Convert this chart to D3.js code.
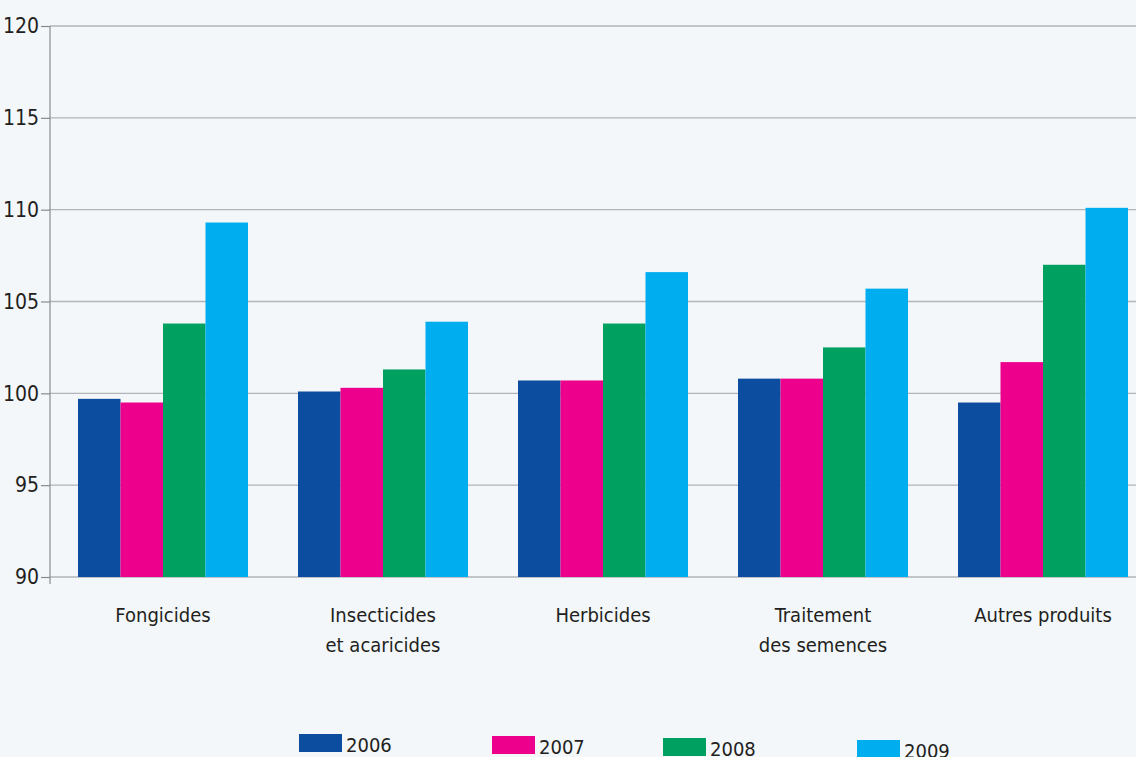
<html><head>
<meta charset="UTF-8">
<title>Indices par famille de produits</title>
<script src="https://cdnjs.cloudflare.com/ajax/libs/d3/7.8.4/d3.min.js"></script>
<style>
    body { margin: 0; padding: 0; background: #f3f7fa; }
    svg { display: block; }
    text { font-family: "Liberation Sans Narrow", "DejaVu Sans Condensed", "Roboto", sans-serif; fill: #231f20; }
</style>
</head>
<body>
<svg id="chart" width="1136" height="757"></svg>
<script>
    // categories (multi-line labels) and series
    var categories = ["Fongicides", "Insecticides et acaricides", "Herbicides", "Traitement des semences", "Autres produits"];
    var categoryLines = [["Fongicides"], ["Insecticides", "et acaricides"], ["Herbicides"], ["Traitement", "des semences"], ["Autres produits"]];
    var years = ["2006", "2007", "2008", "2009"];
    var values2006 = [99.7, 100.1, 100.7, 100.8, 99.5];
    var values2007 = [99.5, 100.3, 100.7, 100.8, 101.7];
    var values2008 = [103.8, 101.3, 103.8, 102.5, 107.0];
    var values2009 = [109.3, 103.9, 106.6, 105.7, 110.1];
    var yTicks = [90, 95, 100, 105, 110, 115, 120];

    var seriesValues = [values2006, values2007, values2008, values2009];
    var colors = ["#0c4da0", "#ec008c", "#00a060", "#00aeef"];

    var svg = d3.select("#chart");
    var width = 1136;
    var axisX = 50;

    var y = d3.scaleLinear().domain([90, 120]).range([577, 26]);

    var x0 = d3.scaleBand()
        .domain(categories)
        .range([53, 1153])
        .paddingInner(0.2273)
        .paddingOuter(0.1136);

    var x1 = d3.scaleBand()
        .domain(years)
        .range([0, x0.bandwidth()]);

    // gridlines
    svg.append("g")
        .selectAll("line")
        .data(yTicks)
        .enter().append("line")
        .attr("x1", axisX)
        .attr("x2", width)
        .attr("y1", function(d) { return y(d); })
        .attr("y2", function(d) { return y(d); })
        .attr("stroke", "#b1b4b9")
        .attr("stroke-width", 1.3);

    // bars
    var groups = svg.append("g")
        .selectAll("g")
        .data(categories)
        .enter().append("g")
        .attr("transform", function(d) { return "translate(" + x0(d) + ",0)"; });

    groups.selectAll("rect")
        .data(function(d, i) {
            return years.map(function(yr, j) { return {year: yr, value: seriesValues[j][i], k: j}; });
        })
        .enter().append("rect")
        .attr("x", function(d) { return x1(d.year); })
        .attr("y", function(d) { return y(d.value); })
        .attr("width", x1.bandwidth())
        .attr("height", function(d) { return y(90) - y(d.value); })
        .attr("fill", function(d) { return colors[d.k]; });

    // y axis
    var yAxis = d3.axisLeft(y)
        .tickValues(yTicks)
        .tickSize(9)
        .tickPadding(2);

    var ag = svg.append("g")
        .attr("transform", "translate(" + axisX + ",0)")
        .call(yAxis);
    ag.select(".domain").remove();
    ag.selectAll(".tick line").attr("stroke", "#8a8a8a").attr("stroke-width", 1.2);
    ag.selectAll(".tick text")
        .attr("font-size", 21)
        .attr("fill", "#231f20")
        .style("font-family", "'Liberation Sans Narrow', 'DejaVu Sans Condensed', sans-serif");

    svg.append("line")
        .attr("x1", axisX).attr("x2", axisX)
        .attr("y1", y(120)).attr("y2", y(90) + 7)
        .attr("stroke", "#8a8a8a")
        .attr("stroke-width", 1.2);

    // category labels
    var labels = svg.append("g")
        .selectAll("text")
        .data(categories)
        .enter().append("text")
        .attr("text-anchor", "middle")
        .attr("font-size", 20)
        .attr("x", function(d) { return x0(d) + x0.bandwidth() / 2; })
        .attr("y", 622);

    labels.selectAll("tspan")
        .data(function(d, i) { return categoryLines[i]; })
        .enter().append("tspan")
        .attr("x", function() { var p = this.parentNode; return p.getAttribute("x"); })
        .attr("dy", function(d, i) { return i === 0 ? 0 : 30; })
        .text(function(d) { return d; });

    // legend (items are slightly staggered in the original)
    var legendPos = [[299, 734], [492, 736], [663, 738], [857, 740]];
    var legend = svg.append("g")
        .selectAll("g")
        .data(years)
        .enter().append("g")
        .attr("transform", function(d, i) { return "translate(" + legendPos[i][0] + "," + legendPos[i][1] + ")"; });

    legend.append("rect")
        .attr("width", 43)
        .attr("height", 18)
        .attr("fill", function(d, i) { return colors[i]; });

    legend.append("text")
        .attr("x", 47)
        .attr("y", 18)
        .attr("font-size", 20)
        .text(function(d) { return d; });
</script>
</body>
</html>
